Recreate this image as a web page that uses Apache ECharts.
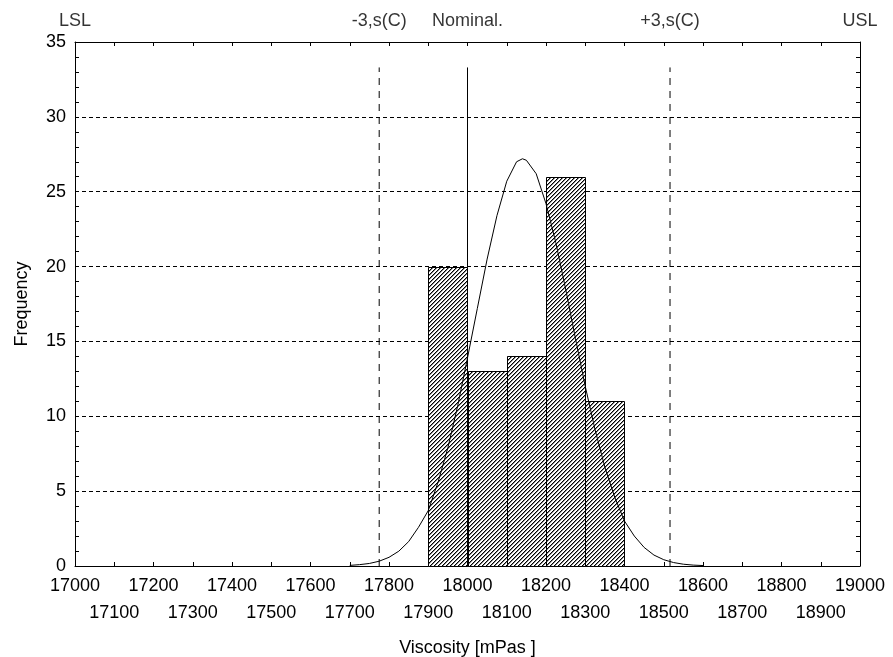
<!DOCTYPE html>
<html>
<head>
<meta charset="utf-8">
<script src="https://cdn.jsdelivr.net/npm/echarts@6/dist/echarts.min.js"></script>
<style>
  html, body { margin: 0; padding: 0; background: #fff; }
  #histChart { width: 893px; height: 657px; }
</style>
</head>
<body>
<div id="histChart"></div>
<script>
// histogram bins
const binStart = [17900, 18000, 18100, 18200, 18300];
const binEnd = [18000, 18100, 18200, 18300, 18400];
const binCounts = [20, 13, 14, 26, 11];

// fitted normal curve
const curveX = [17700, 17725, 17750, 17775, 17800, 17825, 17850, 17875, 17900, 17925,
  17950, 17975, 18000, 18025, 18050, 18075, 18100, 18125, 18140, 18150, 18175,
  18200, 18225, 18250, 18275, 18300, 18325, 18350, 18375, 18400, 18425,
  18450, 18475, 18500, 18525, 18550, 18575, 18600];
const curveY = [0.04, 0.09, 0.17, 0.32, 0.58, 0.99, 1.63, 2.58, 3.7, 5.6,
  7.9, 10.7, 13.9, 17.2, 20.5, 23.4, 25.7, 27.0, 27.2, 27.1, 26.2,
  24.2, 21.6, 18.5, 15.2, 12.0, 9.1, 6.6, 4.6, 3.0, 2.0,
  1.24, 0.73, 0.42, 0.23, 0.12, 0.06, 0.03];

// spec / control lines
const specNames = ['LSL', '-3,s(C)', 'Nominal.', '+3,s(C)', 'USL'];
const specValues = [17000, 17775, 18000, 18516, 19000];
const specLineTop = 33.3;

const xMin = 17000, xMax = 19000, xStep = 100;
const yMin = 0, yMax = 35, yStep = 5;

const fontFamily = '"Liberation Sans", Arial, sans-serif';

// hatch pattern for the bars
function makeHatch() {
  var c = document.createElement('canvas');
  c.width = 4;
  c.height = 4;
  var ctx = c.getContext('2d');
  ctx.fillStyle = '#fff';
  ctx.fillRect(0, 0, 4, 4);
  for (var i = 0; i < 4; i++) {
    ctx.fillStyle = '#000';
    ctx.fillRect(i, 3 - i, 1, 1);
    ctx.fillStyle = '#888';
    ctx.fillRect(i, (4 - i) % 4, 1, 1);
  }
  return c;
}
const hatch = makeHatch();

var chartDom = document.getElementById('histChart');
var myChart = echarts.init(chartDom);

var binData = binStart.map(function (s, i) { return [s, binEnd[i], binCounts[i]]; });
var curveData = curveX.map(function (x, i) { return [x, curveY[i]]; });

var series = [];

// dashed / solid reference lines (LSL and USL sit on the frame)
specValues.forEach(function (v, i) {
  if (i === 0 || i === specValues.length - 1) return;
  series.push({
    type: 'line',
    symbol: 'none',
    silent: true,
    z: 2,
    lineStyle: { color: '#000', width: 1, type: i === 2 ? 'solid' : [7, 6] },
    data: [[v, 0], [v, specLineTop]]
  });
});

series.push({
  type: 'custom',
  z: 3,
  renderItem: function (params, api) {
    var p0 = api.coord([api.value(0), api.value(2)]);
    var p1 = api.coord([api.value(1), 0]);
    return {
      type: 'rect',
      shape: { x: Math.round(p0[0]) + 0.5, y: Math.round(p0[1]) + 0.5, width: Math.round(p1[0] - p0[0]), height: Math.round(p1[1] - p0[1]) },
      style: { fill: { image: hatch, repeat: 'repeat' }, stroke: '#000', lineWidth: 1 }
    };
  },
  encode: { x: [0, 1], y: 2 },
  data: binData
});

series.push({
  type: 'line',
  symbol: 'none',
  silent: true,
  z: 4,
  lineStyle: { color: '#000', width: 1 },
  data: curveData
});

// labels above the frame
series.push({
  type: 'scatter',
  symbolSize: 0,
  clip: false,
  silent: true,
  label: {
    show: true,
    position: 'top',
    distance: 12,
    color: '#000',
    fontSize: 18,
    fontFamily: fontFamily,
    formatter: function (p) { return specNames[p.dataIndex]; }
  },
  data: specValues.map(function (v) { return [v, yMax]; })
});

function isEvenTick(v) {
  return Math.round(v / xStep) % 2 === 0;
}

var tickStyle = { show: true, inside: true, length: 4, lineStyle: { color: '#000' } };
var frameLine = { show: true, onZero: false, lineStyle: { color: '#000', width: 1 } };

var option = {
  animation: false,
  backgroundColor: '#fff',
  grid: { left: 75, right: 33, top: 42, bottom: 91, outerBoundsMode: 'none', containLabel: false },
  xAxis: [{
    type: 'value',
    min: xMin,
    max: xMax,
    interval: xStep,
    name: 'Viscosity [mPas ]',
    nameLocation: 'middle',
    nameGap: 73,
    nameTextStyle: { color: '#000', fontSize: 18, fontFamily: fontFamily },
    axisLine: frameLine,
    axisTick: tickStyle,
    splitLine: { show: false },
    axisLabel: {
      color: '#000',
      fontSize: 18,
      fontFamily: fontFamily,
      margin: 11,
      showMinLabel: true,
      showMaxLabel: true,
      formatter: function (v) { return isEvenTick(v) ? String(v) : ''; }
    }
  }, {
    // second row of labels (odd hundreds)
    type: 'value',
    position: 'bottom',
    min: xMin,
    max: xMax,
    interval: xStep,
    axisLine: { show: false },
    axisTick: { show: false },
    splitLine: { show: false },
    axisLabel: {
      color: '#000',
      fontSize: 18,
      fontFamily: fontFamily,
      margin: 38,
      formatter: function (v) { return isEvenTick(v) ? '' : String(v); }
    }
  }, {
    type: 'value',
    position: 'top',
    min: xMin,
    max: xMax,
    interval: xStep,
    axisLine: frameLine,
    axisTick: tickStyle,
    axisLabel: { show: false },
    splitLine: { show: false }
  }],
  yAxis: [{
    type: 'value',
    min: yMin,
    max: yMax,
    interval: yStep,
    name: 'Frequency',
    nameLocation: 'middle',
    nameGap: 44,
    nameTextStyle: { color: '#000', fontSize: 18, fontFamily: fontFamily },
    axisLine: frameLine,
    axisTick: tickStyle,
    minorTick: { show: true, splitNumber: 5, length: 4, lineStyle: { color: '#000' } },
    axisLabel: { color: '#000', fontSize: 18, fontFamily: fontFamily, margin: 9 },
    splitLine: { show: true, lineStyle: { color: '#000', width: 1, type: [4, 3] } }
  }, {
    type: 'value',
    position: 'right',
    min: yMin,
    max: yMax,
    interval: yStep,
    axisLine: frameLine,
    axisTick: tickStyle,
    minorTick: { show: true, splitNumber: 5, length: 4, lineStyle: { color: '#000' } },
    axisLabel: { show: false },
    splitLine: { show: false }
  }],
  series: series
};

option && myChart.setOption(option);
</script>
</body>
</html>
